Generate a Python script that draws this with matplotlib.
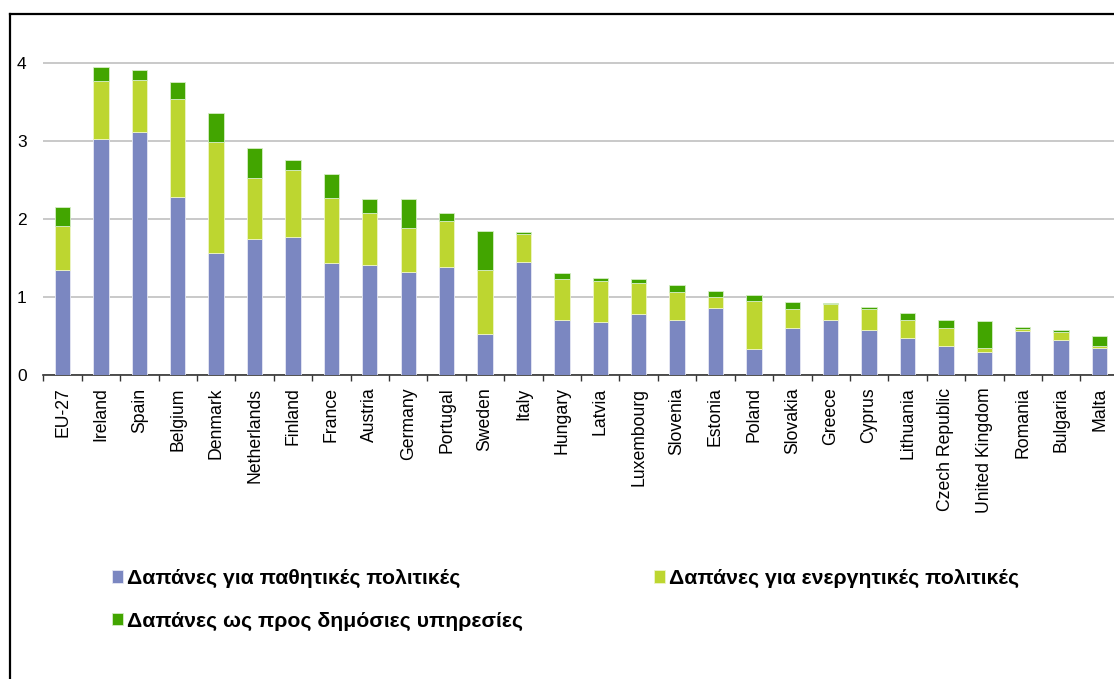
import matplotlib
matplotlib.use("Agg")
import matplotlib.pyplot as plt
from matplotlib.lines import Line2D
import numpy as np

countries = ["EU-27", "Ireland", "Spain", "Belgium", "Denmark", "Netherlands", "Finland",
             "France", "Austria", "Germany", "Portugal", "Sweden", "Italy", "Hungary",
             "Latvia", "Luxembourg", "Slovenia", "Estonia", "Poland", "Slovakia", "Greece",
             "Cyprus", "Lithuania", "Czech Republic", "United Kingdom", "Romania",
             "Bulgaria", "Malta"]

passive = [1.35, 3.03, 3.11, 2.28, 1.57, 1.74, 1.77, 1.44, 1.41, 1.32, 1.38, 0.53, 1.45, 0.70,
           0.68, 0.78, 0.71, 0.855, 0.33, 0.60, 0.70, 0.58, 0.47, 0.37, 0.30, 0.56, 0.45, 0.34]
active = [0.565, 0.74, 0.67, 1.26, 1.42, 0.78, 0.86, 0.83, 0.67, 0.56, 0.59, 0.816, 0.36, 0.53,
          0.53, 0.40, 0.35, 0.145, 0.614, 0.24, 0.206, 0.26, 0.235, 0.23, 0.05, 0.025, 0.10, 0.036]
public_services = [0.245, 0.18, 0.13, 0.22, 0.37, 0.39, 0.13, 0.31, 0.18, 0.37, 0.11, 0.494, 0.02, 0.08,
                   0.03, 0.05, 0.10, 0.08, 0.086, 0.09, 0.014, 0.036, 0.085, 0.11, 0.34, 0.025, 0.03, 0.124]

labels = ["Δαπάνες για παθητικές πολιτικές",
          "Δαπάνες για ενεργητικές πολιτικές",
          "Δαπάνες ως προς δημόσιες υπηρεσίες"]
colors = ["#7B87C1", "#BDD630", "#42A500"]
yticks = [0, 1, 2, 3, 4]

W, H = 1114, 679
fig = plt.figure(figsize=(W / 100, H / 100), dpi=100)
plt.rcParams['font.family'] = ['Liberation Sans', 'DejaVu Sans']

# axes geometry in pixels
x0, unit_x = 43.3, 38.41
y0, unit_y = 375.0, 78.0
ymax = 4.5
n = len(countries)
ax = fig.add_axes([x0 / W, (H - y0) / H, n * unit_x / W, ymax * unit_y / H])

x = np.arange(n)
p = np.array(passive)
a = np.array(active)
s = np.array(public_services)
bw = 0.4
b1 = ax.bar(x, p, bw, color=colors[0], edgecolor="#E6E8F4", linewidth=0.6, zorder=3, label=labels[0])
b2 = ax.bar(x, a, bw, bottom=p, color=colors[1], edgecolor="#EEF5C8", linewidth=0.6, zorder=3, label=labels[1])
b3 = ax.bar(x, s, bw, bottom=p + a, color=colors[2], edgecolor="#D5EDC5", linewidth=0.6, zorder=3, label=labels[2])

ax.set_xlim(-0.5, n - 0.5)
ax.set_ylim(0, ymax)
ax.set_yticks(yticks)
ax.set_yticklabels([str(v) for v in yticks])
ax.yaxis.grid(True, color="#C0C0C0", linewidth=1.2, zorder=0)
ax.set_axisbelow(True)
ax.tick_params(axis="y", length=0, pad=12, labelsize=12.5, colors="#000000")

ax.set_xticks(x)
ax.set_xticklabels(countries, rotation=90, fontsize=12.7)
ax.set_xticks(np.arange(-0.5, n, 1.0), minor=True)
ax.tick_params(axis="x", which="major", length=0, pad=9)
ax.tick_params(axis="x", which="minor", length=4, width=1, color="#333333", direction="out")

for sp in ["left", "right", "top"]:
    ax.spines[sp].set_visible(False)
ax.spines["bottom"].set_color("#333333")
ax.spines["bottom"].set_linewidth(1.2)

# legend (column-wise fill: col 1 = passive, public services; col 2 = active)
leg = fig.legend(handles=[b1, b3, b2], labels=[labels[0], labels[2], labels[1]], ncol=2,
                 loc="upper left", bbox_to_anchor=(112 / W, 1 - 569 / H),
                 frameon=False, prop={"weight": "bold", "size": 15.3},
                 handlelength=0.52, handleheight=0.52, handletextpad=0.2,
                 columnspacing=6.15, labelspacing=1.12, borderpad=0.0, borderaxespad=0.0)

# outer frame (left and top)
fig.add_artist(Line2D([9.5 / W, 9.5 / W], [0, 1 - 13.5 / H], transform=fig.transFigure,
                      color="black", linewidth=1.6))
fig.add_artist(Line2D([9.5 / W, 1], [1 - 13.5 / H, 1 - 13.5 / H], transform=fig.transFigure,
                      color="black", linewidth=1.6))

fig.savefig("out.png", dpi=100)
